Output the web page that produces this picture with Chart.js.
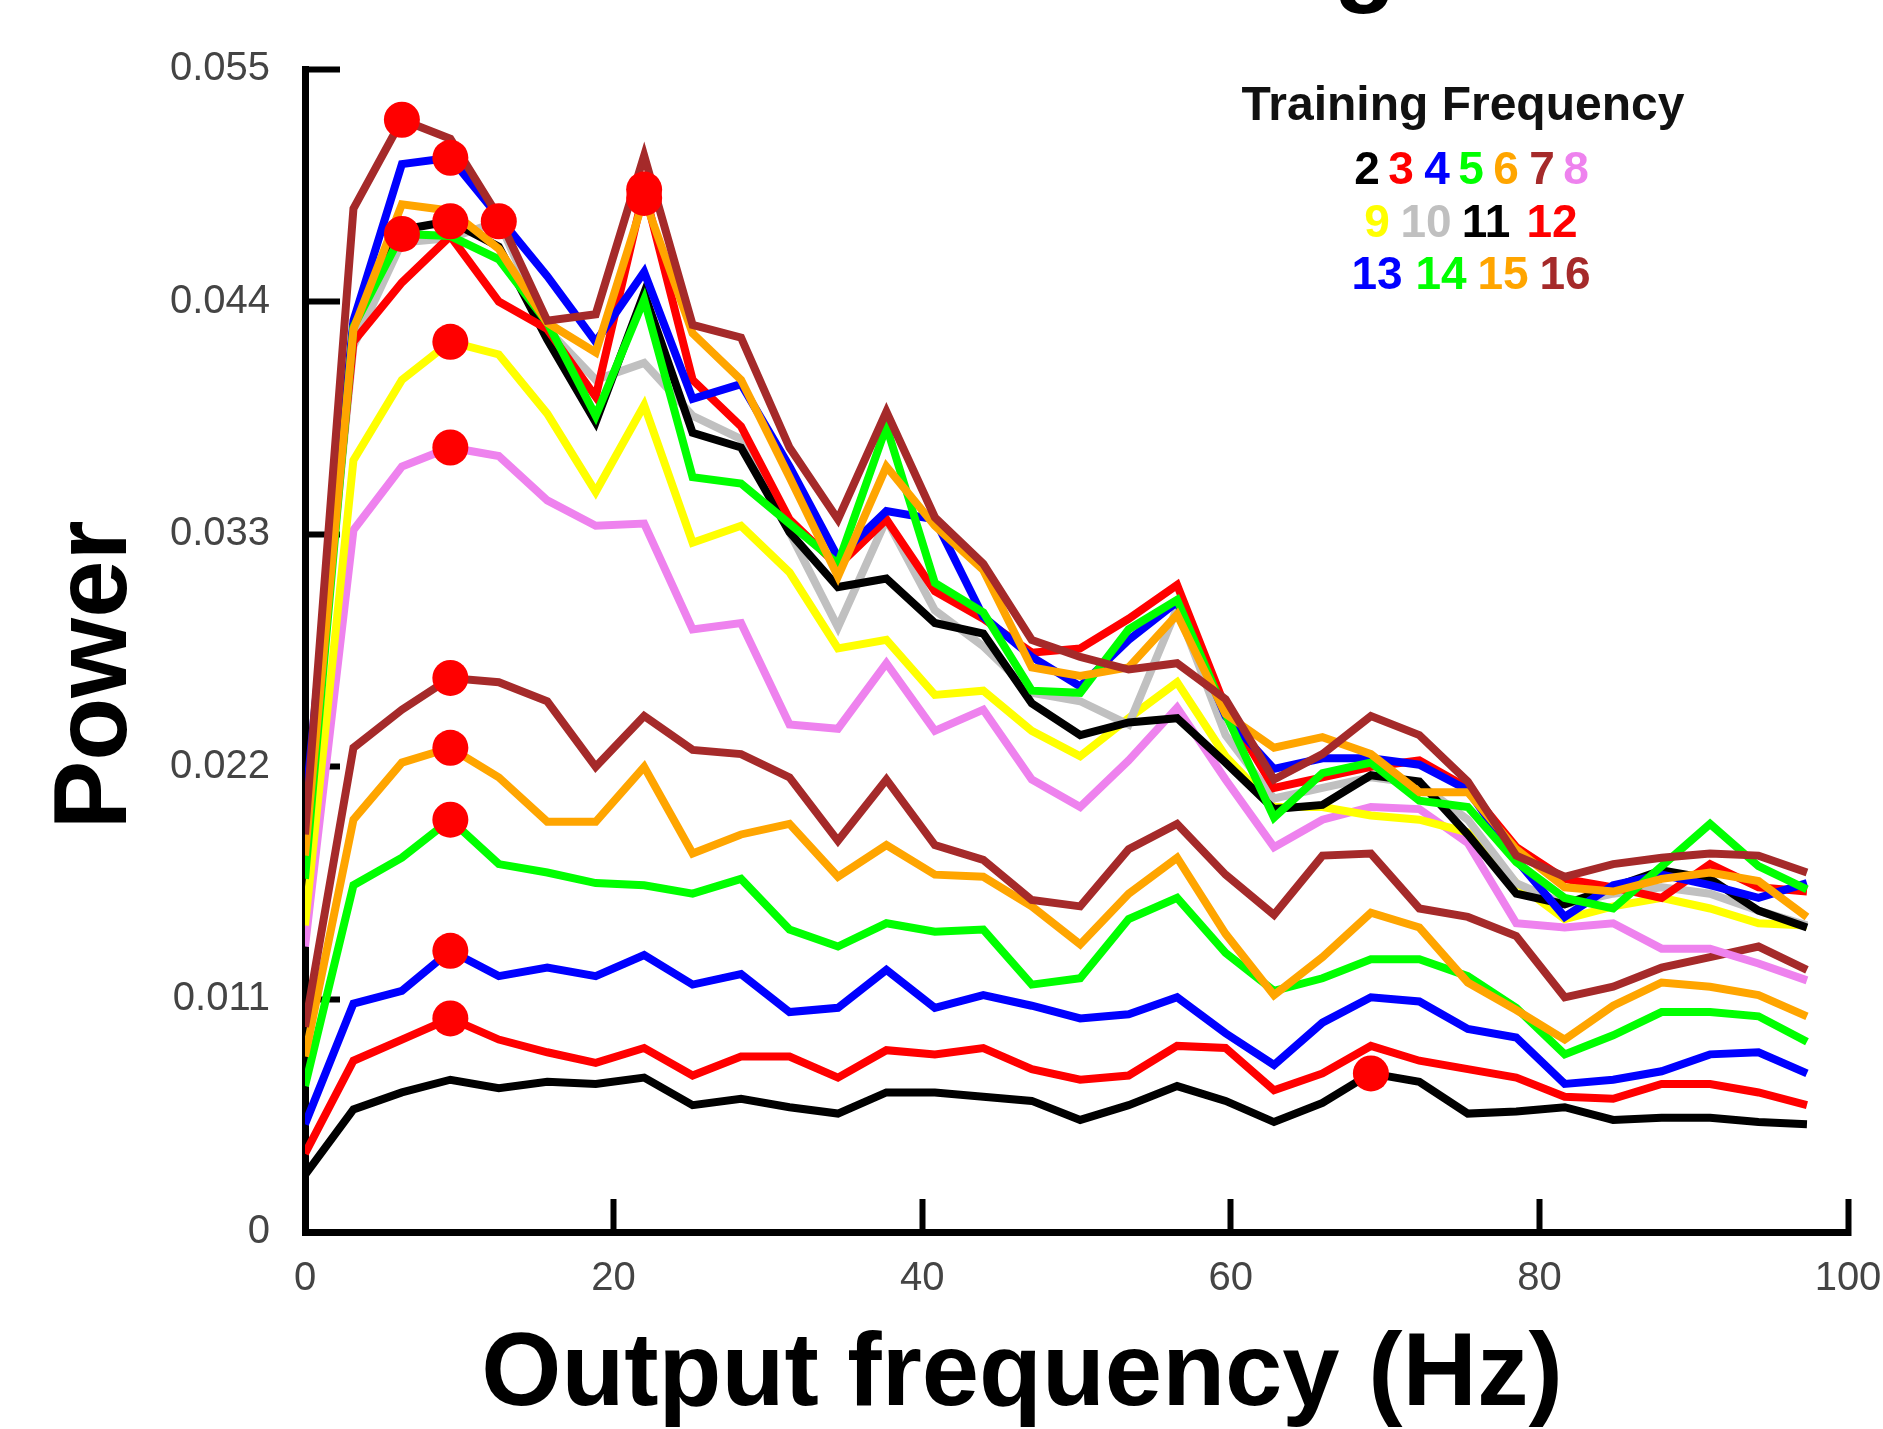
<!DOCTYPE html>
<html>
<head>
<meta charset="utf-8">
<title>Power vs output frequency</title>
<script src="https://cdn.jsdelivr.net/npm/chart.js@4.4.1/dist/chart.umd.min.js"></script>
<style>
  html, body { margin: 0; padding: 0; background: #fff; }
  canvas { display: block; }
</style>
</head>
<body>
<canvas id="grafico-potencia" width="1883" height="1429"></canvas>
<script>
// Datos
const freqs = [0, 3.14, 6.28, 9.42, 12.56, 15.7, 18.84, 21.98, 25.12, 28.26, 31.4, 34.54, 37.68, 40.82, 43.96, 47.1,
               50.24, 53.38, 56.52, 59.66, 62.8, 65.94, 69.08, 72.22, 75.36, 78.5, 81.64, 84.78, 87.92, 91.06, 94.2, 97.34];

const trainingFreqs = ['2', '3', '4', '5', '6', '7', '8', '9', '10', '11', '12', '13', '14', '15', '16'];

const xTicks = [0, 20, 40, 60, 80, 100];
const xTickLabels = ['0', '20', '40', '60', '80', '100'];
const yTicks = [0, 0.011, 0.022, 0.033, 0.044, 0.055];
const yTickLabels = ['0', '0.011', '0.022', '0.033', '0.044', '0.055'];

const power2  = [0.0027, 0.0058, 0.0066, 0.0072, 0.0068, 0.0071, 0.0070, 0.0073, 0.0060, 0.0063, 0.0059, 0.0056, 0.0066, 0.0066, 0.0064, 0.0062,
                 0.0053, 0.0060, 0.0069, 0.0062, 0.0052, 0.0061, 0.0075, 0.0071, 0.0056, 0.0057, 0.0059, 0.0053, 0.0054, 0.0054, 0.0052, 0.0051];
const power3  = [0.0037, 0.0081, 0.0091, 0.0101, 0.0091, 0.0085, 0.0080, 0.0087, 0.0074, 0.0083, 0.0083, 0.0073, 0.0086, 0.0084, 0.0087, 0.0077,
                 0.0072, 0.0074, 0.0088, 0.0087, 0.0067, 0.0075, 0.0088, 0.0081, 0.0077, 0.0073, 0.0064, 0.0063, 0.0070, 0.0070, 0.0066, 0.0060];
const power4  = [0.0051, 0.0108, 0.0114, 0.0133, 0.0121, 0.0125, 0.0121, 0.0131, 0.0117, 0.0122, 0.0104, 0.0106, 0.0124, 0.0106, 0.0112, 0.0107,
                 0.0101, 0.0103, 0.0111, 0.0094, 0.0079, 0.0099, 0.0111, 0.0109, 0.0096, 0.0092, 0.0070, 0.0072, 0.0076, 0.0084, 0.0085, 0.0075];
const power5  = [0.0069, 0.0164, 0.0177, 0.0195, 0.0174, 0.0170, 0.0165, 0.0164, 0.0160, 0.0167, 0.0143, 0.0135, 0.0146, 0.0142, 0.0143, 0.0117,
                 0.0120, 0.0148, 0.0158, 0.0132, 0.0114, 0.0120, 0.0129, 0.0129, 0.0121, 0.0106, 0.0084, 0.0093, 0.0104, 0.0104, 0.0102, 0.0090];
const power6  = [0.0083, 0.0195, 0.0222, 0.0229, 0.0215, 0.0194, 0.0194, 0.0220, 0.0179, 0.0188, 0.0193, 0.0168, 0.0183, 0.0169, 0.0168, 0.0154,
                 0.0136, 0.0160, 0.0177, 0.0141, 0.0112, 0.0130, 0.0151, 0.0144, 0.0118, 0.0105, 0.0091, 0.0107, 0.0118, 0.0116, 0.0112, 0.0102];
const power7  = [0.0097, 0.0229, 0.0247, 0.0262, 0.0260, 0.0251, 0.0220, 0.0244, 0.0228, 0.0226, 0.0215, 0.0185, 0.0214, 0.0183, 0.0176, 0.0157,
                 0.0154, 0.0181, 0.0193, 0.0169, 0.0150, 0.0178, 0.0179, 0.0153, 0.0149, 0.0140, 0.0111, 0.0116, 0.0125, 0.0130, 0.0135, 0.0124];
const power8  = [0.0135, 0.0332, 0.0362, 0.0371, 0.0367, 0.0346, 0.0334, 0.0335, 0.0285, 0.0288, 0.0240, 0.0238, 0.0269, 0.0237, 0.0247, 0.0214,
                 0.0201, 0.0223, 0.0248, 0.0214, 0.0182, 0.0195, 0.0201, 0.0200, 0.0184, 0.0146, 0.0144, 0.0146, 0.0134, 0.0134, 0.0127, 0.0119];
const power9  = [0.0145, 0.0365, 0.0403, 0.0421, 0.0415, 0.0387, 0.0350, 0.0391, 0.0326, 0.0334, 0.0312, 0.0276, 0.0280, 0.0254, 0.0256, 0.0237,
                 0.0225, 0.0243, 0.0260, 0.0225, 0.0201, 0.0201, 0.0197, 0.0195, 0.0189, 0.0165, 0.0148, 0.0154, 0.0158, 0.0153, 0.0146, 0.0145];
const power10 = [0.0190, 0.0419, 0.0468, 0.0470, 0.0478, 0.0427, 0.0403, 0.0411, 0.0386, 0.0375, 0.0331, 0.0286, 0.0337, 0.0294, 0.0277, 0.0255,
                 0.0251, 0.0240, 0.0295, 0.0235, 0.0205, 0.0210, 0.0215, 0.0212, 0.0195, 0.0165, 0.0155, 0.0160, 0.0163, 0.0160, 0.0152, 0.0145];
const power11 = [0.0192, 0.0429, 0.0474, 0.0478, 0.0466, 0.0422, 0.0383, 0.0444, 0.0378, 0.0371, 0.0331, 0.0305, 0.0309, 0.0288, 0.0283, 0.0250,
                 0.0235, 0.0241, 0.0243, 0.0222, 0.0200, 0.0202, 0.0216, 0.0213, 0.0188, 0.0160, 0.0155, 0.0163, 0.0171, 0.0167, 0.0152, 0.0144];
const power12 = [0.0195, 0.0421, 0.0449, 0.0471, 0.0440, 0.0427, 0.0395, 0.0493, 0.0403, 0.0381, 0.0337, 0.0315, 0.0337, 0.0303, 0.0290, 0.0274,
                 0.0276, 0.0290, 0.0306, 0.0248, 0.0210, 0.0215, 0.0220, 0.0223, 0.0210, 0.0182, 0.0167, 0.0163, 0.0158, 0.0174, 0.0163, 0.0161];
const power13 = [0.0200, 0.0431, 0.0505, 0.0508, 0.0480, 0.0452, 0.0421, 0.0454, 0.0394, 0.0401, 0.0362, 0.0319, 0.0341, 0.0337, 0.0291, 0.0272,
                 0.0258, 0.0280, 0.0298, 0.0244, 0.0219, 0.0224, 0.0224, 0.0221, 0.0209, 0.0176, 0.0149, 0.0164, 0.0169, 0.0164, 0.0158, 0.0165];
const power14 = [0.0167, 0.0428, 0.0472, 0.0471, 0.0460, 0.0430, 0.0386, 0.0441, 0.0357, 0.0354, 0.0335, 0.0316, 0.0381, 0.0307, 0.0293, 0.0256,
                 0.0255, 0.0285, 0.0299, 0.0245, 0.0196, 0.0217, 0.0222, 0.0204, 0.0201, 0.0175, 0.0158, 0.0153, 0.0173, 0.0193, 0.0173, 0.0162];
const power15 = [0.0178, 0.0427, 0.0486, 0.0483, 0.0465, 0.0430, 0.0416, 0.0489, 0.0425, 0.0403, 0.0357, 0.0310, 0.0362, 0.0334, 0.0313, 0.0267,
                 0.0263, 0.0267, 0.0292, 0.0245, 0.0229, 0.0234, 0.0226, 0.0208, 0.0208, 0.0181, 0.0163, 0.0161, 0.0167, 0.0170, 0.0166, 0.0149];
const power16 = [0.0188, 0.0484, 0.0526, 0.0517, 0.0480, 0.0431, 0.0434, 0.0509, 0.0429, 0.0423, 0.0371, 0.0337, 0.0388, 0.0338, 0.0316, 0.0280,
                 0.0272, 0.0266, 0.0269, 0.0252, 0.0214, 0.0226, 0.0244, 0.0235, 0.0213, 0.0178, 0.0168, 0.0174, 0.0177, 0.0179, 0.0178, 0.0170];

const powerSeries = [power2, power3, power4, power5, power6, power7, power8, power9,
                     power10, power11, power12, power13, power14, power15, power16];

// Estilos
const lineColors = ['#000000', '#ff0000', '#0000ff', '#00ff00', '#ffa500', '#a52a2a', '#ee82ee', '#ffff00',
                    '#c0c0c0', '#000000', '#ff0000', '#0000ff', '#00ff00', '#ffa500', '#a52a2a'];
const FONT = '"Liberation Sans", Arial, Helvetica, sans-serif';

// Posiciones de la leyenda (filas de números)
const legendRows = [
    { baseline: 184, items: [[0, 1367], [1, 1401], [2, 1437], [3, 1471], [4, 1506], [5, 1542], [6, 1576]] },
    { baseline: 237, items: [[7, 1377], [8, 1426], [9, 1486], [10, 1552]] },
    { baseline: 289, items: [[11, 1377], [12, 1441], [13, 1503], [14, 1565]] }
];

function buildDatasets() {
    const sets = powerSeries.map((values, i) => ({
        label: trainingFreqs[i],
        data: values.map((v, k) => ({ x: freqs[k], y: v })),
        borderColor: lineColors[i],
        backgroundColor: lineColors[i],
        borderWidth: 8,
        pointRadius: 0,
        tension: 0,
        fill: false,
        order: powerSeries.length - i
    }));

    // Punto rojo en el máximo de cada curva
    const peaks = powerSeries.map(values => {
        const k = values.indexOf(Math.max(...values));
        return { x: freqs[k], y: values[k] };
    });
    sets.push({
        label: 'peak',
        data: peaks,
        showLine: false,
        pointRadius: 18,
        pointBackgroundColor: '#ff0000',
        pointBorderWidth: 0,
        order: 0,
        clip: false
    });
    return sets;
}

// Títulos de ejes y leyenda dibujados a mano
const decorations = {
    id: 'decorations',
    afterDraw(chart) {
        const ctx = chart.ctx;
        ctx.save();
        ctx.fillStyle = '#000';
        ctx.textAlign = 'center';
        ctx.textBaseline = 'alphabetic';

        // resto del título (recortado arriba)
        ctx.font = `bold 102px ${FONT}`;
        ctx.fillText('g', 1365, -7);

        ctx.font = `bold 103px ${FONT}`;
        ctx.fillText('Output frequency (Hz)', 1022, 1405);

        ctx.save();
        ctx.translate(126, 675);
        ctx.rotate(-Math.PI / 2);
        ctx.fillText('Power', 0, 0);
        ctx.restore();

        ctx.fillStyle = '#111';
        ctx.font = `bold 48px ${FONT}`;
        ctx.fillText('Training Frequency', 1463, 120);

        ctx.font = `bold 46px ${FONT}`;
        legendRows.forEach(row => {
            row.items.forEach(([idx, cx]) => {
                ctx.fillStyle = lineColors[idx];
                ctx.fillText(trainingFreqs[idx], cx, row.baseline);
            });
        });
        ctx.restore();
    }
};

Chart.defaults.font.family = FONT;

const chart = new Chart(document.getElementById('grafico-potencia'), {
    type: 'line',
    data: { datasets: buildDatasets() },
    plugins: [decorations],
    options: {
        responsive: false,
        animation: false,
        devicePixelRatio: 1,
        layout: { padding: { top: 69, right: 35, bottom: 0, left: 0 } },
        plugins: {
            legend: { display: false },
            tooltip: { enabled: false },
            title: { display: false }
        },
        scales: {
            x: {
                type: 'linear',
                min: 0,
                max: 100,
                afterBuildTicks: scale => { scale.ticks = xTicks.map(v => ({ value: v })); },
                afterFit: scale => {
                    scale.height = 197;
                    scale.paddingLeft = 0;
                    scale.paddingRight = 0;
                },
                ticks: {
                    callback: (value, index) => xTickLabels[index],
                    autoSkip: false,
                    maxRotation: 0,
                    padding: 56,
                    color: '#444',
                    font: { size: 40 }
                },
                grid: {
                    drawOnChartArea: false,
                    drawTicks: true,
                    tickLength: -33,
                    tickWidth: 6,
                    tickColor: '#000'
                },
                border: { display: true, color: '#000', width: 7 }
            },
            y: {
                min: 0,
                max: 0.055,
                afterBuildTicks: scale => { scale.ticks = yTicks.map(v => ({ value: v })); },
                afterFit: scale => {
                    scale.width = 305;
                    scale.paddingTop = 0;
                    scale.paddingBottom = 0;
                },
                ticks: {
                    callback: (value, index) => yTickLabels[index],
                    padding: 70,
                    color: '#444',
                    font: { size: 40 }
                },
                grid: {
                    drawOnChartArea: false,
                    drawTicks: true,
                    tickLength: -35,
                    tickWidth: 6,
                    tickColor: '#000'
                },
                border: { display: true, color: '#000', width: 7 }
            }
        }
    }
});
</script>
</body>
</html>
